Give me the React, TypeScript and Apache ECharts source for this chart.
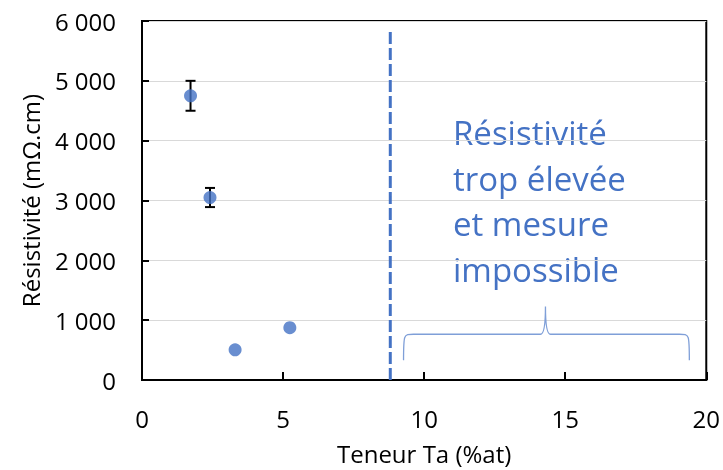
import React, { useEffect, useRef } from "react";
import * as echarts from "echarts";

// Data
const teneurTa = [1.72, 2.41, 3.3, 5.24];
const resistivite = [4750, 3050, 505, 875];
const erreur = [250, 160, 0, 0];
const seuilTa = 8.8;
const seuilHaut = 5830;
const accoladeX = [9.27, 14.3, 19.4];
const accoladeY = [330, 765, 1230];
const annotation = ["Résistivité", "trop élevée", "et mesure", "impossible"];

const BLUE = "#4472C4";
const FONT = "'Open Sans', sans-serif";

const fmt = (v: number) => String(v).replace(/\B(?=(\d{3})+(?!\d))/g, " ");

export default function App() {
  const ref = useRef<HTMLDivElement>(null);
  useEffect(() => {
    if (!ref.current) return;
    const chart = echarts.init(ref.current, null, { renderer: "svg" });
    const points = teneurTa.map((x, i) => [x, resistivite[i]]);
    const bars = teneurTa
      .map((x, i) => [x, resistivite[i] - erreur[i], resistivite[i] + erreur[i], erreur[i]])
      .filter((d) => d[3] > 0);
    chart.setOption({
      animation: false,
      grid: {
        left: 142,
        right: 16,
        top: 21,
        bottom: 88,
        show: true,
        borderColor: "#000",
        borderWidth: 2,
      },
      xAxis: {
        type: "value",
        min: 0,
        max: 20,
        interval: 5,
        name: "Teneur Ta (%at)",
        nameLocation: "middle",
        nameGap: 61,
        nameTextStyle: { fontFamily: FONT, fontSize: 24, color: "#000" },
        axisLine: { lineStyle: { color: "#000", width: 2 } },
        axisTick: { inside: true, length: 8, lineStyle: { color: "#000", width: 2 } },
        axisLabel: { fontFamily: FONT, fontSize: 24, color: "#000", margin: 26 },
        splitLine: { show: false },
      },
      yAxis: {
        type: "value",
        min: 0,
        max: 6000,
        interval: 1000,
        name: "Résistivité (mΩ.cm)",
        nameLocation: "middle",
        nameGap: 100,
        nameTextStyle: { fontFamily: FONT, fontSize: 24, color: "#000" },
        axisLine: { lineStyle: { color: "#000", width: 2 } },
        axisTick: { inside: true, length: 7, lineStyle: { color: "#000", width: 2 } },
        axisLabel: { fontFamily: FONT, fontSize: 24, color: "#000", margin: 26, formatter: fmt },
        splitLine: { show: true, lineStyle: { color: "#d9d9d9", width: 1 } },
      },
      series: [
        {
          type: "line",
          data: [
            [seuilTa, 0],
            [seuilTa, seuilHaut],
          ],
          symbol: "none",
          lineStyle: { color: BLUE, width: 3, type: [12, 4] },
          silent: true,
          z: 1,
        },
        {
          type: "custom",
          data: [[accoladeX[0], accoladeX[1], accoladeX[2], accoladeY[0], accoladeY[1], accoladeY[2]]],
          renderItem: (params: any, api: any) => {
            const x0 = api.value(0), xc = api.value(1), x1 = api.value(2);
            const yb = api.value(3), ym = api.value(4), yt = api.value(5);
            const pL = api.coord([x0, yb]);
            const pLm = api.coord([x0 + 0.35, ym]);
            const pC = api.coord([xc, yt]);
            const pCm = api.coord([xc, ym]);
            const pR = api.coord([x1, yb]);
            const pRm = api.coord([x1 - 0.35, ym]);
            const d =
              `M${pL[0]},${pL[1]} C${pL[0]},${pLm[1]} ${pL[0]},${pLm[1]} ${pLm[0]},${pLm[1]} ` +
              `L${pCm[0] - 5},${pCm[1]} Q${pCm[0]},${pCm[1]} ${pC[0]},${pC[1]} ` +
              `Q${pCm[0]},${pCm[1]} ${pCm[0] + 5},${pCm[1]} ` +
              `L${pRm[0]},${pRm[1]} C${pR[0]},${pRm[1]} ${pR[0]},${pRm[1]} ${pR[0]},${pR[1]}`;
            return {
              type: "path",
              shape: { pathData: d },
              style: { fill: "none", stroke: "#7f9fd8", lineWidth: 1.3 },
            };
          },
          silent: true,
          z: 2,
        },
        {
          type: "custom",
          data: bars,
          renderItem: (params: any, api: any) => {
            const x = api.value(0);
            const lo = api.coord([x, api.value(1)]);
            const hi = api.coord([x, api.value(2)]);
            const st = { stroke: "#000", lineWidth: 2 };
            return {
              type: "group",
              children: [
                { type: "line", shape: { x1: lo[0], y1: lo[1], x2: hi[0], y2: hi[1] }, style: st },
                { type: "line", shape: { x1: lo[0] - 5, y1: lo[1], x2: lo[0] + 5, y2: lo[1] }, style: st },
                { type: "line", shape: { x1: hi[0] - 5, y1: hi[1], x2: hi[0] + 5, y2: hi[1] }, style: st },
              ],
            };
          },
          silent: true,
          z: 3,
        },
        {
          type: "scatter",
          data: points,
          symbol: "circle",
          symbolSize: 13,
          itemStyle: { color: BLUE },
          z: 4,
        },
      ],
      graphic: [
        {
          type: "text",
          left: 453,
          top: 110,
          style: {
            text: annotation.join("\n"),
            fontFamily: FONT,
            fontSize: 33,
            lineHeight: 45.5,
            fill: BLUE,
          },
        },
      ],
    });
    return () => chart.dispose();
  }, []);
  return (
    <div
      ref={ref}
      style={{ position: "fixed", left: 0, top: 0, width: 723, height: 470 }}
    />
  );
}
